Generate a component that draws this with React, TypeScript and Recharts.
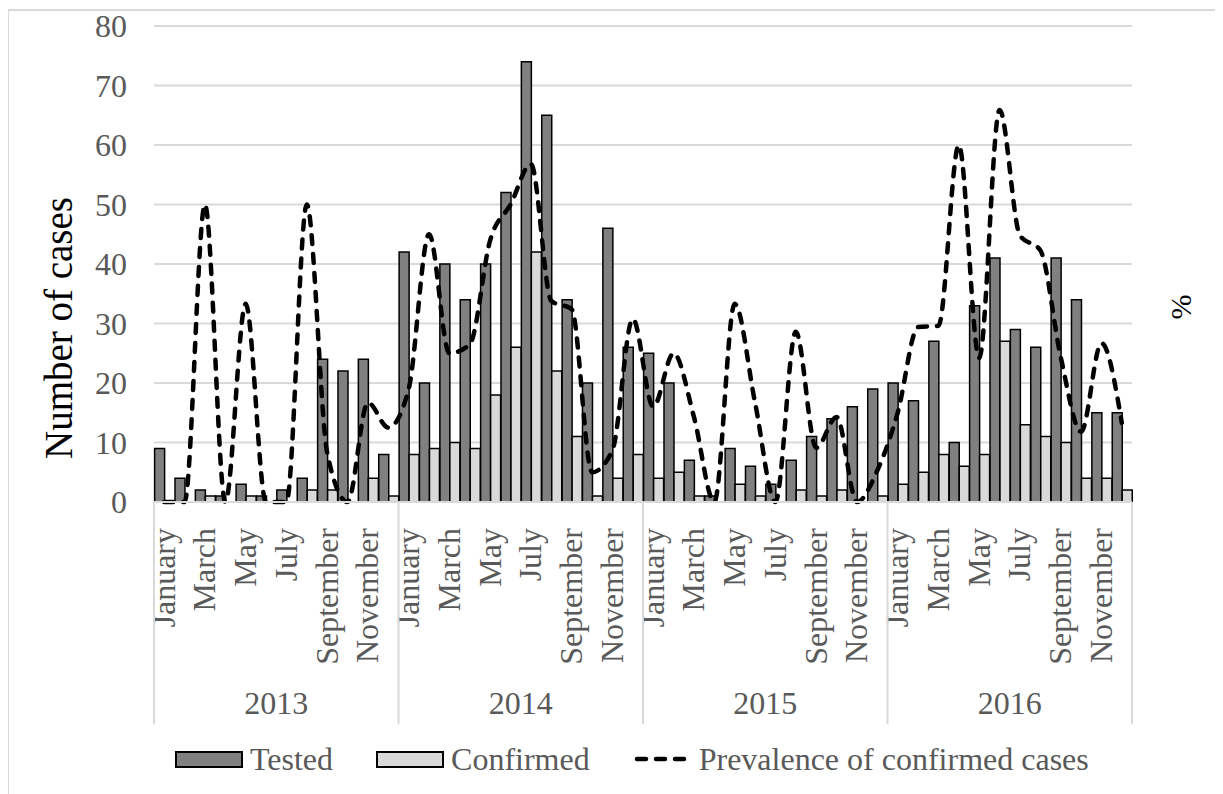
import React from "react";
import { ComposedChart, Bar, Line, XAxis, YAxis, CartesianGrid, Legend } from "recharts";

const years = ["2013", "2014", "2015", "2016"];
const monthNames = [
  "January", "February", "March", "April", "May", "June",
  "July", "August", "September", "October", "November", "December",
];

// monthly counts, Jan 2013 .. Dec 2016
const tested = [
  9, 4, 2, 1, 3, 1, 2, 4, 24, 22, 24, 8,
  42, 20, 40, 34, 40, 52, 74, 65, 34, 20, 46, 26,
  25, 20, 7, 1, 9, 6, 3, 7, 11, 14, 16, 19,
  20, 17, 27, 10, 33, 41, 29, 26, 41, 34, 15, 15,
];
const confirmed = [
  0, 0, 1, 0, 1, 0, 0, 2, 2, 0, 4, 1,
  8, 9, 10, 9, 18, 26, 42, 22, 11, 1, 4, 8,
  4, 5, 1, 0, 3, 1, 0, 2, 1, 2, 0, 1,
  3, 5, 8, 6, 8, 27, 13, 11, 10, 4, 4, 2,
];
// prevalence in %
const prevalence = [
  0, 0, 50, 0, 33.3, 0, 0, 50, 8.3, 0, 16.7, 12.5,
  19, 45, 25, 26.5, 44, 50, 56.8, 33.8, 32.4, 5, 8.7, 30.8,
  16, 25, 14.3, 0, 33.3, 16.7, 0, 28.6, 9.1, 14.3, 0, 5.3,
  15, 29.4, 29.6, 60, 24.2, 65.9, 44.8, 42.3, 24.4, 11.8, 26.7, 13.3,
];
const caseTicks = [0, 10, 20, 30, 40, 50, 60, 70, 80];

const data = tested.map((t, i) => ({
  key: years[Math.floor(i / 12)] + "-" + monthNames[i % 12],
  tested: t,
  confirmed: confirmed[i],
  prevalence: prevalence[i],
}));

const FONT = '"Liberation Serif", "Times New Roman", serif';
const TXT = "#595959";
const GRID = "#d9d9d9";
const MONTH_AXIS_H = 170;

function MonthTick(props: any) {
  const { x, y, payload } = props;
  const i = payload.index;
  if (i % 2 !== 0) return <g />;
  return (
    <text
      x={x}
      y={y}
      dy="0.33em"
      transform={`rotate(-90, ${x}, ${y})`}
      textAnchor="end"
      fontFamily={FONT}
      fontSize={32}
      fill={TXT}
    >
      {monthNames[i % 12]}
    </text>
  );
}

// second row: year names and separators between the years
function YearTick(props: any) {
  const { x, y, payload } = props;
  const i = payload.index;
  const half = payload.offset || 10.2;
  const sep = (sx: number, k: string) => (
    <line key={k} x1={sx} x2={sx} y1={y - MONTH_AXIS_H} y2={y + 52} stroke={GRID} strokeWidth={2} />
  );
  const parts = [];
  if (i % 12 === 0) parts.push(sep(x - half, "a"));
  if (i === data.length - 1) parts.push(sep(x + half, "b"));
  if (i % 12 === 6) {
    parts.push(
      <text key="t" x={x - half} y={y + 42} textAnchor="middle" fontFamily={FONT} fontSize={32} fill={TXT}>
        {years[Math.floor(i / 12)]}
      </text>
    );
  }
  return <g>{parts}</g>;
}

function LeftTitle(props: any) {
  const vb = props.viewBox;
  const cx = vb.x + 50;
  const cy = vb.y + vb.height / 2 + 64;
  return (
    <text
      x={cx}
      y={cy}
      dy="0.33em"
      transform={`rotate(-90, ${cx}, ${cy})`}
      textAnchor="middle"
      fontFamily={FONT}
      fontSize={39}
      fill="#000"
    >
      Number of cases
    </text>
  );
}

function RightTitle(props: any) {
  const vb = props.viewBox;
  const cx = vb.x + 49;
  const cy = vb.y + vb.height / 2 + 43;
  return (
    <text
      x={cx}
      y={cy}
      dy="0.33em"
      transform={`rotate(-90, ${cx}, ${cy})`}
      textAnchor="middle"
      fontFamily={FONT}
      fontSize={30}
      fill="#000"
    >
      %
    </text>
  );
}

function LegendBox() {
  const item: React.CSSProperties = { display: "flex", alignItems: "center" };
  const swatch = (fill: string): React.CSSProperties => ({
    width: 64,
    height: 13,
    background: fill,
    border: "2px solid #000",
    marginRight: 7,
  });
  return (
    <div
      style={{
        height: 54,
        display: "flex",
        alignItems: "center",
        paddingLeft: 166,
        fontFamily: FONT,
        fontSize: 32,
        color: TXT,
        lineHeight: 1,
      }}
    >
      <div style={item}>
        <span style={swatch("#808080")} />
        <span>Tested</span>
      </div>
      <div style={{ ...item, marginLeft: 43 }}>
        <span style={swatch("#d9d9d9")} />
        <span>Confirmed</span>
      </div>
      <div style={{ ...item, marginLeft: 44 }}>
        <svg width={54} height={10} style={{ marginRight: 11 }}>
          <line x1={3} x2={52} y1={5} y2={5} stroke="#000" strokeWidth={4.5} strokeDasharray="9 10" strokeLinecap="round" />
        </svg>
        <span>Prevalence of confirmed cases</span>
      </div>
    </div>
  );
}

export default function App() {
  return (
    <div
      style={{
        marginTop: 1,
        marginLeft: -1,
        width: 1212,
        height: 785,
        borderTop: `2px solid ${GRID}`,
        borderLeft: `2px solid ${GRID}`,
        borderRight: `2px solid ${GRID}`,
        boxSizing: "border-box",
        background: "#fff",
      }}
    >
      <div style={{ marginTop: -10 }}>
        <ComposedChart
          width={1208}
          height={793}
          data={data}
          margin={{ top: 25, right: 0, left: 0, bottom: 8 }}
          barCategoryGap="3%"
          barGap={0}
        >
          <CartesianGrid yAxisId="l" xAxisId="m" vertical={false} stroke={GRID} strokeWidth={2} />
          <XAxis
            xAxisId="m"
            dataKey="key"
            interval={0}
            height={MONTH_AXIS_H}
            tick={<MonthTick />}
            tickLine={false}
            tickSize={0}
            tickMargin={26}
            axisLine={{ stroke: GRID, strokeWidth: 2 }}
          />
          <XAxis
            xAxisId="yr"
            dataKey="key"
            interval={0}
            height={60}
            tick={<YearTick />}
            tickLine={false}
            tickSize={0}
            tickMargin={0}
            axisLine={false}
          />
          <YAxis
            yAxisId="l"
            width={145}
            domain={[0, 80]}
            ticks={caseTicks}
            interval={0}
            tickLine={false}
            axisLine={false}
            tickSize={0}
            tickMargin={27}
            tick={{ fontFamily: FONT, fontSize: 32, fill: TXT }}
            label={LeftTitle}
          />
          <YAxis
            yAxisId="r"
            orientation="right"
            width={85}
            domain={[0, 80]}
            tick={false}
            tickLine={false}
            axisLine={false}
            label={RightTitle}
          />
          <Legend verticalAlign="bottom" height={54} content={<LegendBox />} />
          <Bar
            xAxisId="m"
            yAxisId="l"
            dataKey="tested"
            name="Tested"
            fill="#808080"
            stroke="#000"
            strokeWidth={1.5}
            isAnimationActive={false}
          />
          <Bar
            xAxisId="m"
            yAxisId="l"
            dataKey="confirmed"
            name="Confirmed"
            fill="#d9d9d9"
            stroke="#000"
            strokeWidth={1.5}
            isAnimationActive={false}
          />
          <Line
            xAxisId="m"
            yAxisId="r"
            type="monotone"
            dataKey="prevalence"
            name="Prevalence of confirmed cases"
            stroke="#000"
            strokeWidth={4.5}
            strokeDasharray="9 10"
            strokeLinecap="round"
            dot={false}
            isAnimationActive={false}
          />
        </ComposedChart>
      </div>
    </div>
  );
}
